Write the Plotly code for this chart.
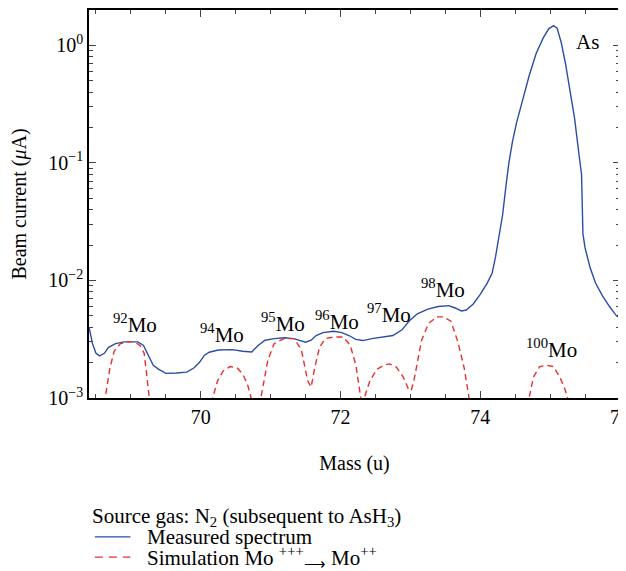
import math
import plotly.graph_objects as go

# Measured spectrum
mass_meas = [68.40, 68.45, 68.50, 68.55, 68.62, 68.68, 68.78, 68.90, 69.00, 69.10, 69.18, 69.25,
             69.32, 69.40, 69.50, 69.65, 69.80, 69.90, 69.98, 70.05, 70.12, 70.25, 70.45, 70.60,
             70.73, 70.82, 70.92, 71.05, 71.20, 71.33, 71.42, 71.50, 71.58, 71.65, 71.75, 71.90,
             72.02, 72.12, 72.22, 72.32, 72.45, 72.60, 72.75, 72.88, 72.98, 73.10, 73.25, 73.40,
             73.55, 73.65, 73.73, 73.80, 73.90, 74.00, 74.10, 74.17, 74.22, 74.27, 74.32, 74.37,
             74.41, 74.46, 74.52, 74.60, 74.70, 74.80, 74.90, 74.98, 75.05, 75.10, 75.16, 75.22,
             75.28, 75.35, 75.42, 75.45, 75.47, 75.50, 75.57, 75.65, 75.75, 75.85, 75.95, 76.00]
cur_meas = [0.0040, 0.0029, 0.0024, 0.00228, 0.0024, 0.0027, 0.0029, 0.0030, 0.0030, 0.0030, 0.0028, 0.0023,
            0.0019, 0.00175, 0.00162, 0.00163, 0.00166, 0.0018, 0.0020, 0.0023, 0.00245, 0.00256, 0.00258, 0.0025,
            0.00246, 0.0028, 0.0031, 0.0032, 0.00325, 0.0032, 0.0031, 0.00298, 0.0031, 0.0034, 0.0036, 0.0037,
            0.0036, 0.0034, 0.00315, 0.00308, 0.0032, 0.0033, 0.0034, 0.0038, 0.0045, 0.0052, 0.0057, 0.0060,
            0.0061, 0.0058, 0.0055, 0.0056, 0.0063, 0.0076, 0.0095, 0.0115, 0.016, 0.024, 0.036, 0.065,
            0.10, 0.15, 0.22, 0.33, 0.55, 0.85, 1.15, 1.38, 1.47, 1.40, 1.05, 0.70,
            0.42, 0.24, 0.11, 0.08, 0.025, 0.019, 0.013, 0.0095, 0.0074, 0.0060, 0.0050, 0.0048]

# Simulation Mo+++ -> Mo++
mass_sim = [68.55, 68.63, 68.70, 68.76, 68.85, 68.95, 69.05, 69.13, 69.19, 69.23, 69.26, 69.32,
            70.10, 70.17, 70.24, 70.32, 70.42, 70.52, 70.60, 70.67, 70.72, 70.78,
            70.80, 70.86, 70.96, 71.05, 71.19, 71.34, 71.44, 71.53, 71.58,
            71.63, 71.70, 71.78, 71.90, 72.04, 72.14, 72.22, 72.29, 72.31,
            72.34, 72.42, 72.52, 72.62, 72.70, 72.80, 72.90, 72.97, 73.01,
            73.05, 73.10, 73.16, 73.26, 73.38, 73.47, 73.58, 73.68, 73.77, 73.84, 73.90,
            74.64, 74.70, 74.76, 74.85, 74.95, 75.05, 75.14, 75.21, 75.25, 75.30]
cur_sim = [0.0005, 0.0010, 0.0018, 0.0025, 0.0029, 0.0030, 0.0030, 0.0028, 0.0024, 0.0015, 0.0010, 0.0005,
           0.0006, 0.0010, 0.0014, 0.0017, 0.00185, 0.0018, 0.0016, 0.0013, 0.0010, 0.0006,
           0.0006, 0.0010, 0.0021, 0.0029, 0.0032, 0.0032, 0.00256, 0.0014, 0.00124,
           0.0018, 0.0027, 0.0032, 0.0033, 0.0033, 0.0028, 0.0019, 0.0010, 0.0007,
           0.0010, 0.0014, 0.00175, 0.0019, 0.00195, 0.00183, 0.0015, 0.0012, 0.00115,
           0.0014, 0.0020, 0.0031, 0.0043, 0.0049, 0.0049, 0.0045, 0.0030, 0.0018, 0.0010, 0.0006,
           0.0006, 0.0010, 0.0015, 0.00185, 0.0019, 0.00185, 0.0015, 0.0012, 0.0010, 0.0006]

# Peak labels
label_text = ["<sup>92</sup>Mo", "<sup>94</sup>Mo", "<sup>95</sup>Mo", "<sup>96</sup>Mo",
              "<sup>97</sup>Mo", "<sup>98</sup>Mo", "<sup>100</sup>Mo", "As"]
label_x = [69.06, 70.31, 71.18, 71.95, 72.69, 73.46, 75.02, 75.54]
label_y = [0.0043, 0.00356, 0.0044, 0.0046, 0.0052, 0.0086, 0.00266, 1.06]

# Legend texts
legend_title = "Source gas: N<sub>2</sub> (subsequent to AsH<sub>3</sub>)"
series_names = ["Measured spectrum", "Simulation Mo <sup>+++</sup><sub>\u27f6</sub> Mo<sup>++</sup>"]

ytick_vals = [0.001, 0.01, 0.1, 1]
ytick_text = ["10<sup>\u22123</sup>", "10<sup>\u22122</sup>", "10<sup>\u22121</sup>", "10<sup>0</sup>"]
yminor_vals = [m * d for d in (0.001, 0.01, 0.1, 1) for m in range(2, 10)]

FONT = "Liberation Serif"
BLUE = "#2a4ea6"
RED = "#e8302e"

fig = go.Figure()
fig.add_trace(go.Scatter(x=mass_meas, y=cur_meas, mode="lines", name=series_names[0],
                         line=dict(color=BLUE, width=1.4), showlegend=False))
fig.add_trace(go.Scatter(x=mass_sim, y=cur_sim, mode="lines", name=series_names[1],
                         line=dict(color=RED, width=1.4, dash="6px,4px"), showlegend=False))

for t, x, y in zip(label_text, label_x, label_y):
    fig.add_annotation(x=x, y=math.log10(y), xref="x", yref="y", text=t, showarrow=False,
                       font=dict(family=FONT, size=21, color="black"))

# Legend block below the chart (paper coordinates)
fig.add_annotation(x=0.004, y=-0.307, xref="paper", yref="paper", xanchor="left", yanchor="middle",
                   text=legend_title, showarrow=False, borderpad=0,
                   font=dict(family=FONT, size=21, color="black"))
leg_y = [-0.358, -0.410]
leg_style = [dict(color=BLUE, width=1.4), dict(color=RED, width=1.4, dash="8px,6px")]
for name, yy, st in zip(series_names, leg_y, leg_style):
    fig.add_shape(type="line", xref="paper", yref="paper", x0=0.011, x1=0.078, y0=yy, y1=yy, line=st)
    fig.add_annotation(x=0.107, y=yy, xref="paper", yref="paper", xanchor="left", yanchor="middle",
                       text=name, showarrow=False, borderpad=0,
                       font=dict(family=FONT, size=21, color="black"))

fig.update_layout(
    width=618, height=563,
    margin=dict(l=81, r=6, t=2, b=173, autoexpand=False),
    plot_bgcolor="white", paper_bgcolor="white",
    font=dict(family=FONT, size=20, color="black"),
    showlegend=False,
)
fig.update_xaxes(range=[68.4, 76.0005], tickvals=[70, 72, 74, 76], ticks="inside", ticklen=7,
                 showline=True, linecolor="black", linewidth=1.5, mirror="allticks",
                 showgrid=False, zeroline=False, tickfont=dict(size=20), automargin=False,
                 ticklabeloverflow="allow",
                 minor=dict(dtick=0.5, tick0=68.5, ticks="inside", ticklen=4, showgrid=False),
                 title=dict(text="Mass (u)", font=dict(size=20), standoff=29))
fig.update_yaxes(type="log", range=[-3, 0.3], tickvals=ytick_vals, ticktext=ytick_text,
                 ticks="inside", ticklen=7, showline=True, linecolor="black", linewidth=1.5,
                 mirror="allticks", showgrid=False, zeroline=False, tickfont=dict(size=20),
                 automargin=False,
                 minor=dict(tickvals=yminor_vals, ticks="inside", ticklen=4, showgrid=False),
                 title=dict(text="Beam current (<i>\u03bc</i>A)", font=dict(size=20), standoff=20))

fig.write_html("out.html")
